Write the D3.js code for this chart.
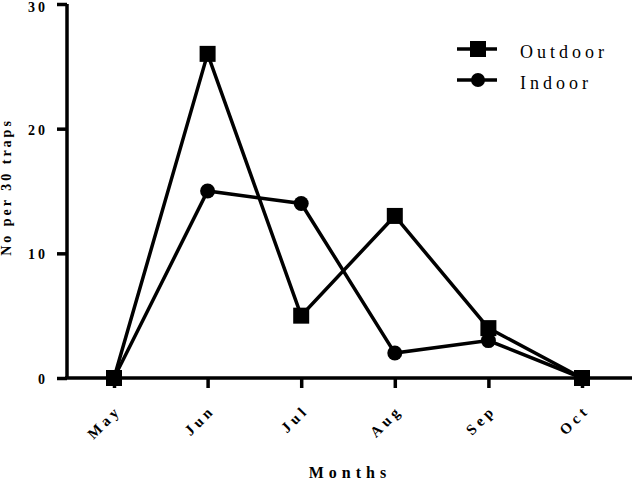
<!DOCTYPE html>
<html>
<head>
<meta charset="utf-8">
<script src="https://cdn.jsdelivr.net/npm/d3@7"></script>
<style>
  body { margin: 0; background: #fff; }
  text { font-family: "Liberation Serif", "Times New Roman", serif; }
</style>
</head>
<body>
<svg id="chart" width="632" height="482"></svg>
<script>
var months = ["May", "Jun", "Jul", "Aug", "Sep", "Oct"];
var outdoor = [0, 26, 5, 13, 4, 0];
var indoor = [0, 15, 14, 2, 3, 0];
var yTicks = [0, 10, 20, 30];

var svg = d3.select("#chart");

var xScale = d3.scalePoint()
  .domain(months)
  .range([114, 582]);

var yScale = d3.scaleLinear()
  .domain([0, 30])
  .range([378, 4]);

// y axis
var yAxis = svg.append("g")
  .attr("transform", "translate(67,0)")
  .call(d3.axisLeft(yScale).tickValues(yTicks).tickSize(10).tickPadding(9));
yAxis.select(".domain").attr("stroke-width", 3.5).attr("d", "M0," + yScale(30) + "V" + yScale(0));
yAxis.selectAll(".tick line").attr("stroke-width", 3.5);
yAxis.selectAll(".tick text")
  .attr("font-size", 14).attr("font-weight", "bold")
  .style("letter-spacing", "3px")
  .attr("font-family", "Liberation Serif")
  .attr("dy", function(d) { return d === 30 ? "0.5em" : "0.4em"; });

// x axis
var xAxis = svg.append("g")
  .attr("transform", "translate(0," + yScale(0) + ")")
  .call(d3.axisBottom(xScale).tickSize(10).tickPadding(4));
xAxis.select(".domain").attr("stroke-width", 3.5).attr("d", "M65,0H632");
xAxis.selectAll(".tick line").attr("stroke-width", 3.5);
xAxis.selectAll(".tick text")
  .attr("font-size", 15).attr("font-weight", "bold")
  .attr("font-family", "Liberation Serif")
  .style("letter-spacing", "4px")
  .attr("text-anchor", "end")
  .attr("y", 0).attr("dy", 0)
  .attr("transform", "translate(8,33) rotate(-45)");

// axis titles
svg.append("text")
  .attr("transform", "translate(11,187) rotate(-90)")
  .attr("text-anchor", "middle")
  .attr("font-size", 14).attr("font-weight", "bold")
  .style("letter-spacing", "3px")
  .text("No per 30 traps");

svg.append("text")
  .attr("x", 350).attr("y", 478)
  .attr("text-anchor", "middle")
  .attr("font-size", 16).attr("font-weight", "bold")
  .style("letter-spacing", "5px")
  .text("Months");

var line = d3.line()
  .x(function(d, i) { return xScale(months[i]); })
  .y(function(d) { return yScale(d); });

svg.append("path").datum(outdoor)
  .attr("d", line).attr("fill", "none")
  .attr("stroke", "#000").attr("stroke-width", 3.5);
svg.append("path").datum(indoor)
  .attr("d", line).attr("fill", "none")
  .attr("stroke", "#000").attr("stroke-width", 3.5);

svg.selectAll(".sq").data(outdoor).enter().append("rect")
  .attr("x", function(d, i) { return xScale(months[i]) - 8; })
  .attr("y", function(d) { return yScale(d) - 8; })
  .attr("width", 16).attr("height", 16)
  .attr("fill", "#000");

svg.selectAll(".ci").data(indoor).enter().append("circle")
  .attr("cx", function(d, i) { return xScale(months[i]); })
  .attr("cy", function(d) { return yScale(d); })
  .attr("r", 7.5)
  .attr("fill", "#000");

// legend
var legend = [
  { name: "Outdoor", shape: "square", y: 49 },
  { name: "Indoor", shape: "circle", y: 80 }
];
var lg = svg.append("g");
legend.forEach(function(d) {
  lg.append("line")
    .attr("x1", 457).attr("x2", 497)
    .attr("y1", d.y).attr("y2", d.y)
    .attr("stroke", "#000").attr("stroke-width", 3.5);
  if (d.shape === "square") {
    lg.append("rect").attr("x", 470).attr("y", d.y - 8)
      .attr("width", 16).attr("height", 16).attr("fill", "#000");
  } else {
    lg.append("circle").attr("cx", 478).attr("cy", d.y).attr("r", 7).attr("fill", "#000");
  }
  lg.append("text")
    .attr("x", 520).attr("y", d.y + 9)
    .attr("font-size", 18)
    .style("letter-spacing", "4px")
    .text(d.name);
});
</script>
</body>
</html>
